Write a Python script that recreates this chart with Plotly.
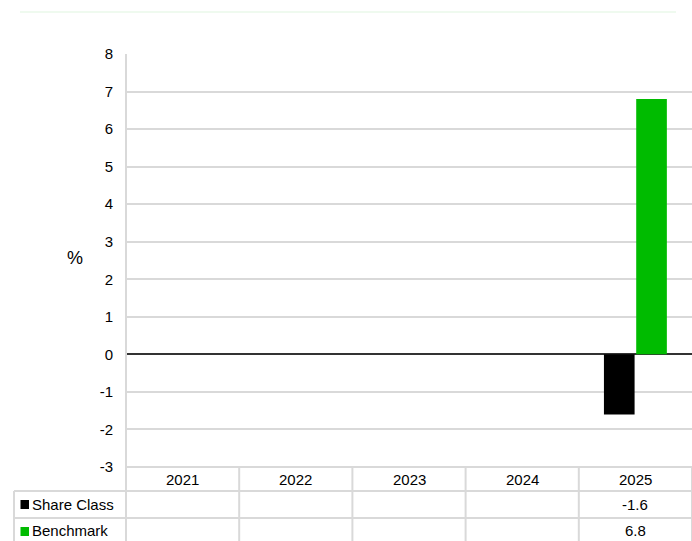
import plotly.graph_objects as go

years = ["2021", "2022", "2023", "2024", "2025"]
share_class = [None, None, None, None, -1.6]
benchmark = [None, None, None, None, 6.8]
series_names = ["Share Class", "Benchmark"]
series_colors = ["#000000", "#00bb00"]
y_ticks = [-3, -2, -1, 0, 1, 2, 3, 4, 5, 6, 7, 8]
y_tick_text = [str(v) for v in y_ticks]

W, H = 692, 541
ML, MR, MT, MB = 126, 0, 54, 74
PW, PH = W - ML - MR, H - MT - MB

def py(pix):  # pixel y -> paper y
    return (H - MB - pix) / PH

def px(pix):
    return (pix - ML) / PW

grid = "#d9d9d9"
font = dict(family="Liberation Sans, Arial, sans-serif", size=15, color="#000000")

fig = go.Figure()
for name, vals, col in zip(series_names, [share_class, benchmark], series_colors):
    fig.add_trace(go.Bar(x=years, y=vals, name=name, marker=dict(color=col, line=dict(width=0))))

shapes = []
# top faint green line
shapes.append(dict(type="line", xref="paper", yref="paper", x0=px(20), x1=px(676), y0=py(12), y1=py(12),
                   line=dict(color="#dff5df", width=1)))
# left axis line extended into table
shapes.append(dict(type="line", xref="paper", yref="paper", x0=0, x1=0, y0=py(541), y1=1,
                   line=dict(color=grid, width=2)))
# table horizontal lines
shapes.append(dict(type="line", xref="paper", yref="paper", x0=0, x1=1, y0=0, y1=0,
                   line=dict(color=grid, width=2)))
for yp in [491, 518]:
    shapes.append(dict(type="line", xref="paper", yref="paper", x0=px(14), x1=1, y0=py(yp), y1=py(yp),
                       line=dict(color=grid, width=2)))
shapes.append(dict(type="line", xref="paper", yref="paper", x0=px(14), x1=px(14), y0=py(541), y1=py(491),
                   line=dict(color=grid, width=2)))
# column separators
for i in range(len(years)):
    xb = i + 0.5
    shapes.append(dict(type="line", xref="x", yref="paper", x0=xb, x1=xb, y0=py(541), y1=0,
                       line=dict(color=grid, width=2)))
# legend squares
for col, (y0, y1) in zip(series_colors, [(500, 509), (527, 536)]):
    shapes.append(dict(type="rect", xref="paper", yref="paper", x0=px(20.5), x1=px(29), y0=py(y1), y1=py(y0),
                       fillcolor=col, line=dict(width=0)))

annotations = []
annotations.append(dict(text="%", xref="paper", yref="paper", x=px(75), y=py(258), xanchor="center",
                        yanchor="middle", showarrow=False,
                        font=dict(family=font["family"], size=18, color="#000")))
for i, yr in enumerate(years):
    annotations.append(dict(text=yr, xref="x", yref="paper", x=i, y=py(479), xanchor="center",
                            yanchor="middle", showarrow=False, font=font))
for vals, row_y in [(share_class, 504.5), (benchmark, 530.5)]:
    for i, v in enumerate(vals):
        if v is not None:
            annotations.append(dict(text=f"{v:.1f}", xref="x", yref="paper", x=i, y=py(row_y),
                                    xanchor="center", yanchor="middle", showarrow=False, font=font))
for name, row_y in zip(series_names, [504.5, 530.5]):
    annotations.append(dict(text=name, xref="paper", yref="paper", x=px(30), y=py(row_y),
                            xanchor="left", yanchor="middle", showarrow=False, font=font))

fig.update_layout(
    width=W, height=H,
    margin=dict(l=ML, r=MR, t=MT, b=MB),
    paper_bgcolor="white", plot_bgcolor="white",
    barmode="group", bargap=0.43, bargroupgap=0.05,
    showlegend=False,
    font=font,
    xaxis=dict(type="category", range=[-0.5, 4.5], showticklabels=False, showgrid=False,
               zeroline=False, showline=False, ticks=""),
    yaxis=dict(range=[-3, 8], tickvals=y_ticks, ticktext=y_tick_text, showgrid=True, gridcolor=grid,
               gridwidth=1.5, zeroline=True, zerolinecolor="#333333", zerolinewidth=1.5,
               showline=False, ticks="", ticklabelstandoff=12, tickfont=font),
    shapes=shapes,
    annotations=annotations,
)

fig.write_html("out.html", config={"displayModeBar": False},
               post_script="document.body.style.margin='0';document.body.style.overflow='hidden';")
